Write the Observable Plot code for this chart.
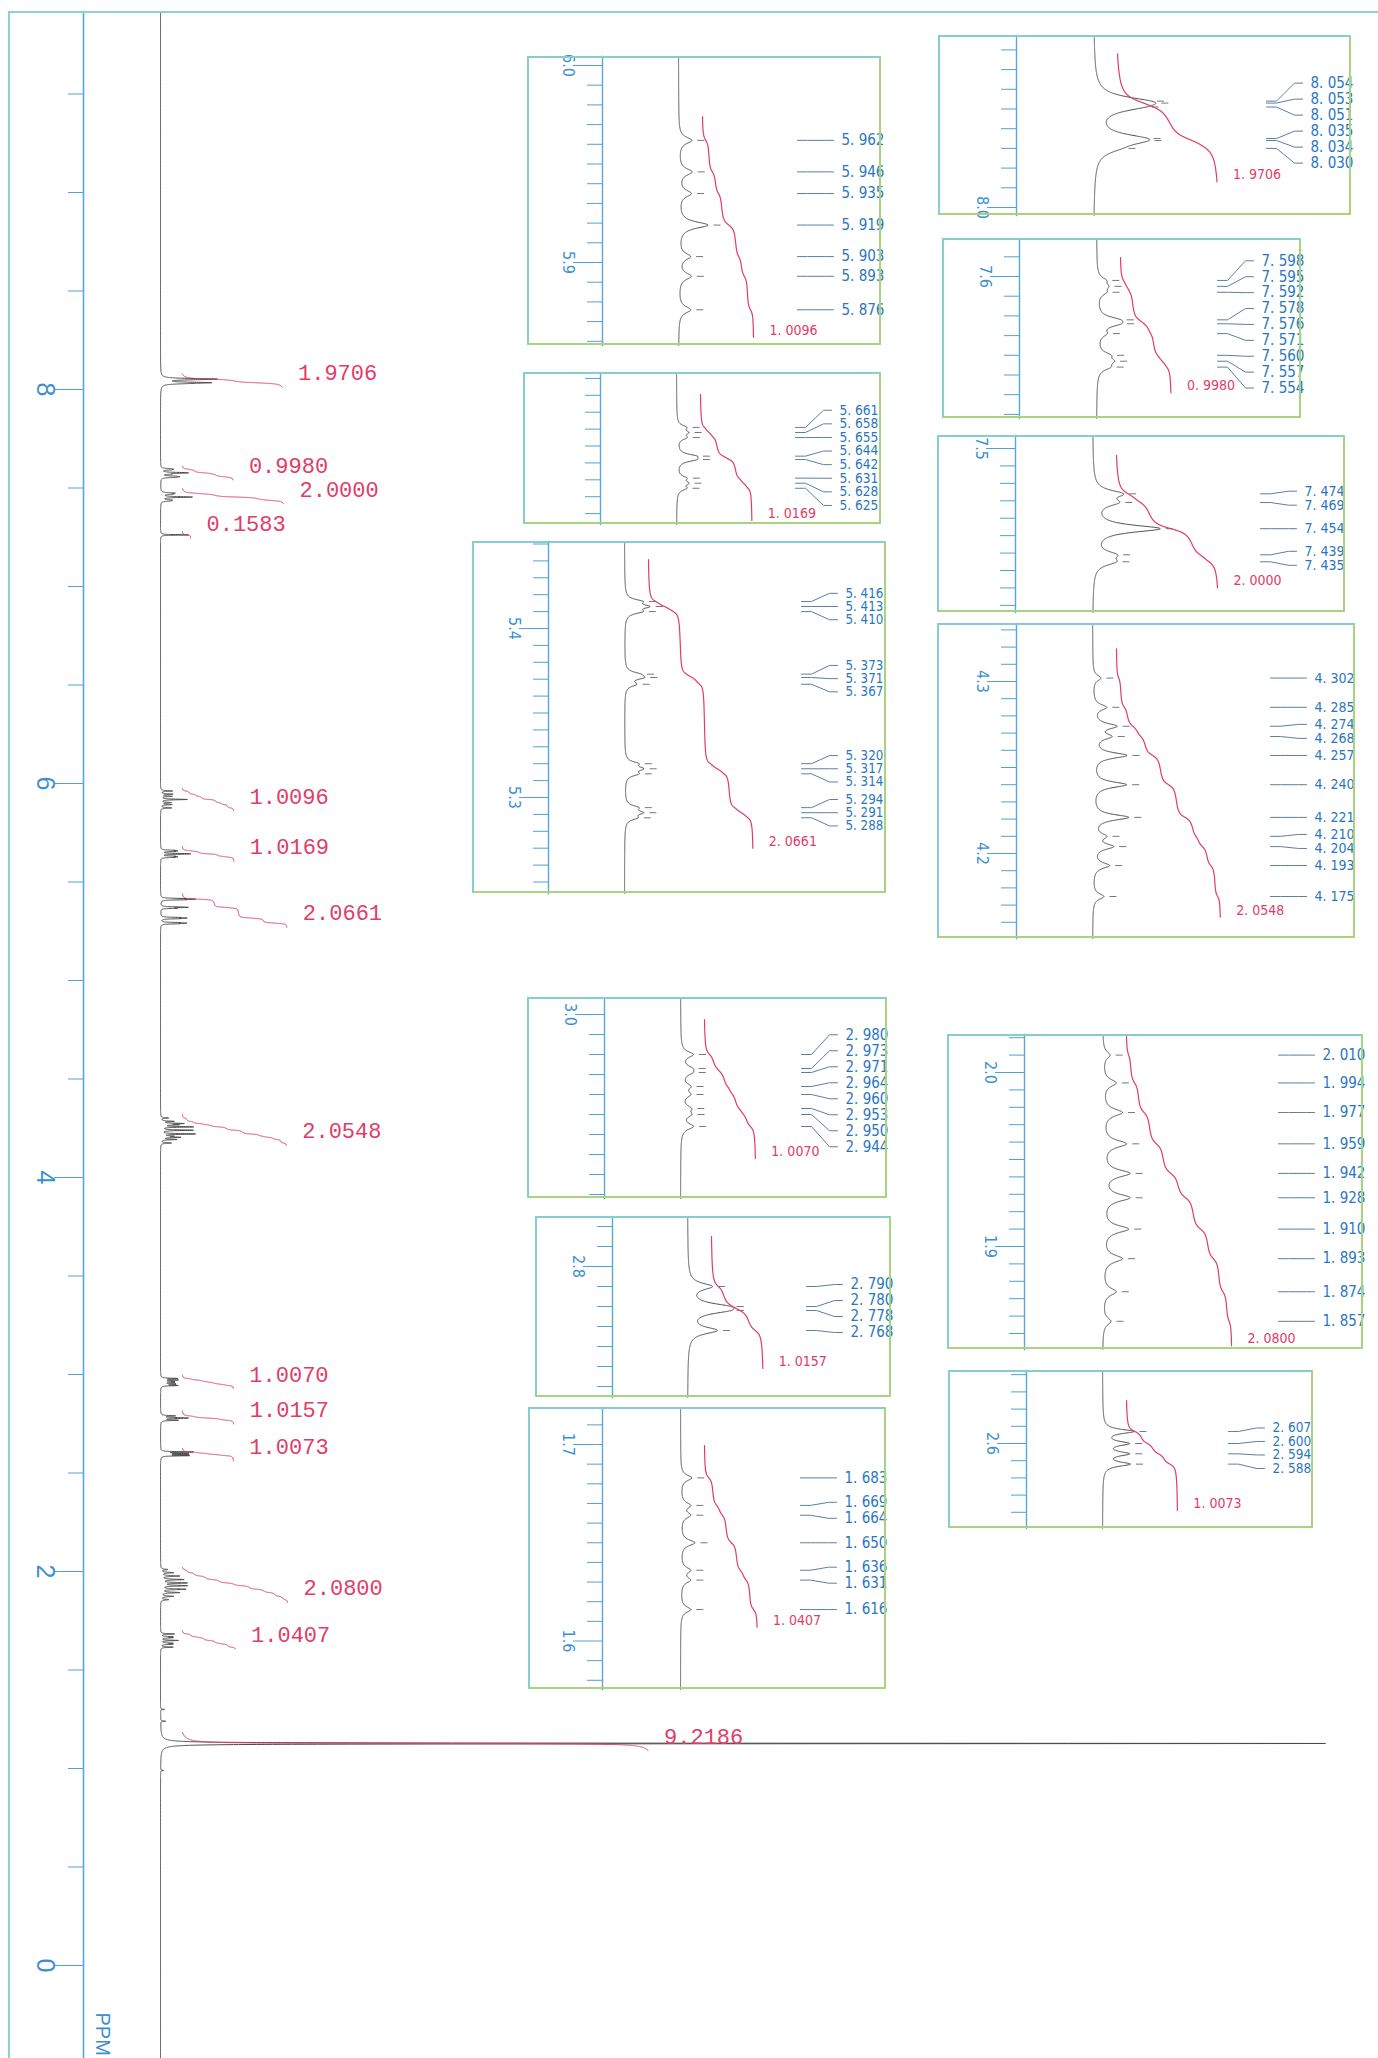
<!DOCTYPE html>
<html><head><meta charset="utf-8">
<script src="https://cdn.jsdelivr.net/npm/d3@7"></script>
<script src="https://cdn.jsdelivr.net/npm/@observablehq/plot@0.6"></script>
<style>
html,body{margin:0;padding:0;background:#fff;overflow:hidden;}
#wrap{position:relative;width:1378px;height:2058px;overflow:hidden;background:#fff;}
#main{position:absolute;left:0;top:0;}
#outer{position:absolute;left:8px;top:11px;width:1370px;height:2047px;border-left:2px solid #8ad2cf;border-top:2px solid #8ad2cf;box-sizing:border-box;pointer-events:none;}
.inset{position:absolute;background:#fff;}
.inset svg,#main svg{display:block;overflow:visible;}
.box{position:absolute;box-sizing:border-box;border-style:solid;border-width:2px;border-color:#84cfcb #a9d47f #a9d47f #84cfcb;pointer-events:none;}
</style></head>
<body><div id="wrap"><div id="main"></div><div id="outer"></div></div>
<script>
// ================= DATA =================
// main ppm axis ticks
const mainTickMajor = [0, 2, 4, 6, 8];
const mainTickMinor = [0.5, 1, 1.5, 2.5, 3, 3.5, 4.5, 5, 5.5, 6.5, 7, 7.5, 8.5, 9, 9.5];

// peak lists (ppm) and line heights of every multiplet
const ppm804 = [8.054, 8.053, 8.051, 8.035, 8.034, 8.030];
const h804   = [24, 24, 22, 26, 26, 12];
const ppm757 = [7.598, 7.595, 7.592, 7.578, 7.576, 7.571, 7.560, 7.557, 7.554];
const h757   = [7, 8, 7, 16, 16, 7, 10, 12, 10];
const ppm745 = [7.474, 7.469, 7.454, 7.439, 7.435];
const h745   = [26, 20, 66, 18, 18];
const ppm726 = [7.262];
const h726   = [1];
const ppm592 = [5.962, 5.946, 5.935, 5.919, 5.903, 5.893, 5.876];
const h592   = [13, 13, 12, 29, 11, 12, 12];
const ppm564 = [5.661, 5.658, 5.655, 5.644, 5.642, 5.631, 5.628, 5.625];
const h564   = [8, 9, 8, 15, 15, 8, 9, 8];
const ppm535 = [5.416, 5.413, 5.410, 5.373, 5.371, 5.367, 5.320, 5.317, 5.314, 5.294, 5.291, 5.288];
const h535   = [14, 20, 14, 11, 15, 10, 11, 15, 11, 11, 15, 10];
const ppm424 = [4.302, 4.285, 4.274, 4.268, 4.257, 4.240, 4.221, 4.210, 4.204, 4.193, 4.175];
const h424   = [8, 13, 22, 16, 33, 33, 35, 11, 19, 16, 11];
const ppm296 = [2.980, 2.973, 2.971, 2.964, 2.960, 2.953, 2.950, 2.944];
const h296   = [12, 8, 8, 8, 8, 8, 8, 12];
const ppm278 = [2.790, 2.780, 2.778, 2.768];
const h278   = [23, 28, 28, 28];
const ppm260 = [2.607, 2.600, 2.594, 2.588];
const h260   = [30, 24, 24, 26];
const ppm193 = [2.010, 1.994, 1.977, 1.959, 1.942, 1.928, 1.910, 1.893, 1.874, 1.857];
const h193   = [7, 13, 19, 23, 26, 26, 25, 19, 13, 8];
const ppm165 = [1.683, 1.669, 1.664, 1.650, 1.636, 1.631, 1.616];
const h165   = [11, 9, 9, 14, 9, 9, 10];
const ppm113 = [1.127];
const h113   = [1];

// multiplet table (same order everywhere below)
const integralValue  = [1.9706, 0.9980, 2.0000, 0.1583, 1.0096, 1.0169, 2.0661, 2.0548, 1.0070, 1.0157, 1.0073, 2.0800, 1.0407, 9.2186];
const integralFrom   = [8.078, 7.6096, 7.496, 7.280, 5.974, 5.6805, 5.4408, 4.319, 2.9975, 2.815, 2.625, 2.0213, 1.6995, 1.183];
const integralTo     = [8.013, 7.541, 7.420, 7.245, 5.862, 5.606, 5.270, 4.163, 2.928, 2.749, 2.561, 1.843, 1.607, 1.091];
const mainPeakHeight = [57, 28, 32, 28, 27, 30, 35, 35, 18, 28, 33, 27, 18, 1165];
const lineWidth      = [0.006, 0.0038, 0.005, 0.003, 0.004, 0.003, 0.003, 0.004, 0.0035, 0.004, 0.003, 0.005, 0.0035, 0.003];
const insetOf        = ["G", "H", "I", null, "A", "B", "C", "J", "D", "E", "L", "K", "F", null];

// small unlabelled lines near the big singlet
const ppmMinor = [1.30, 1.24, 0.99];
const hMinor   = [4, 5, 3];

// ================= LAYOUT =================
const RED = "#e13c66", BLUE = "#2a76c2", TICK = "#4ea2d8", SPEC = "#4a4a4a", CONN = "#5b7f9e";
const LABEL_FONT = "'Liberation Sans Narrow','DejaVu Sans Condensed',Roboto,'Liberation Sans',sans-serif";
const MONO = "'Liberation Mono','DejaVu Sans Mono',monospace";
const PX_PER_H = 50.5;
const MAIN = {zeroY: 1965, pxPerPpm: 197, top: 11, height: 2058, axisX: 83, baseX: 160, width: 1378};

const insetLayout = [
  {id:"A", left:527, top:56,   right:881,  bottom:345,  axisX:602,  baseX:678,  refPpm:6.0,   refY:65,   pxPerPpm:1970, majors:[6.0,5.9], conn:119, gap:16},
  {id:"B", left:523, top:372,  right:881,  bottom:524,  axisX:600,  baseX:676,  refPpm:5.658, refY:432,  pxPerPpm:1690, majors:[],        conn:119, gap:13.6},
  {id:"C", left:472, top:541,  right:886,  bottom:893,  axisX:548,  baseX:624,  refPpm:5.4,   refY:628,  pxPerPpm:1690, majors:[5.4,5.3], conn:177, gap:13.2},
  {id:"D", left:527, top:997,  right:887,  bottom:1198, axisX:604,  baseX:680,  refPpm:3.0,   refY:1014, pxPerPpm:2000, majors:[3.0],     conn:121, gap:16},
  {id:"E", left:535, top:1216, right:891,  bottom:1397, axisX:612,  baseX:687,  refPpm:2.8,   refY:1266, pxPerPpm:2000, majors:[2.8],     conn:119, gap:16},
  {id:"F", left:528, top:1407, right:886,  bottom:1689, axisX:602,  baseX:680,  refPpm:1.7,   refY:1444, pxPerPpm:1965, majors:[1.7,1.6], conn:120, gap:16},
  {id:"G", left:938, top:35,   right:1351, bottom:215,  axisX:1016, baseX:1093, refPpm:8.0,   refY:207,  pxPerPpm:1970, majors:[8.0],     conn:173, gap:16},
  {id:"H", left:942, top:238,  right:1301, bottom:418,  axisX:1019, baseX:1096, refPpm:7.6,   refY:276,  pxPerPpm:1970, majors:[7.6],     conn:121, gap:15.9},
  {id:"I", left:937, top:435,  right:1345, bottom:612,  axisX:1015, baseX:1092, refPpm:7.5,   refY:448,  pxPerPpm:1743, majors:[7.5],     conn:168, gap:14},
  {id:"J", left:937, top:623,  right:1355, bottom:938,  axisX:1016, baseX:1092, refPpm:4.3,   refY:681,  pxPerPpm:1720, majors:[4.3,4.2], conn:178, gap:14},
  {id:"K", left:947, top:1034, right:1363, bottom:1349, axisX:1024, baseX:1102, refPpm:2.0,   refY:1072, pxPerPpm:1740, majors:[2.0,1.9], conn:176, gap:15},
  {id:"L", left:948, top:1370, right:1313, bottom:1528, axisX:1026, baseX:1102, refPpm:2.6,   refY:1443, pxPerPpm:1720, majors:[2.6],     conn:126, gap:13.5}
];

// ================= BUILD =================
const mPpm = [ppm804, ppm757, ppm745, ppm726, ppm592, ppm564, ppm535, ppm424, ppm296, ppm278, ppm260, ppm193, ppm165, ppm113];
const mH   = [h804, h757, h745, h726, h592, h564, h535, h424, h296, h278, h260, h193, h165, h113];

function lor(d, w) { const t = 2 * d / w; return 1 / (1 + t * t); }
function shapeAt(m, p) {
  const P = mPpm[m], H = mH[m], w = lineWidth[m];
  let s = 0;
  for (let i = 0; i < P.length; i++) s += H[i] * lor(p - P[i], w);
  return s;
}
function minorAt(p) {
  let s = 0;
  for (let i = 0; i < ppmMinor.length; i++) s += hMinor[i] * lor(p - ppmMinor[i], 0.003);
  return s;
}
const shapeMax = mPpm.map((P, m) => {
  const lo = d3.min(P) - 0.02, hi = d3.max(P) + 0.02;
  let mx = 0;
  for (let p = hi; p >= lo; p -= 0.0001) mx = Math.max(mx, shapeAt(m, p));
  P.forEach(p => { mx = Math.max(mx, shapeAt(m, p)); });
  return mx;
});
const mainGain = mainPeakHeight.map((h, m) => h / shapeMax[m]);

function integralCurve(m) {
  const a = integralFrom[m], b = integralTo[m], pts = [];
  let c = 0;
  for (let p = a; p >= b - 1e-9; p -= 0.0001) { c += shapeAt(m, p); pts.push({ppm: p, c}); }
  pts.forEach(d => d.c /= c);
  return pts;
}
const curves = integralValue.map((v, m) => integralCurve(m));

// ---------- main spectrum ----------
const yTopMain = (MAIN.zeroY - MAIN.top) / MAIN.pxPerPpm;
const yBotMain = (MAIN.zeroY - MAIN.height) / MAIN.pxPerPpm;
let samp = d3.range(yTopMain, yBotMain, -0.004);
[...mPpm, ppmMinor].forEach(P => {
  samp = samp.concat(d3.range(d3.max(P) + 0.04, d3.min(P) - 0.04, -0.0002), P);
});
samp = Array.from(new Set(samp.map(p => +p.toFixed(5)))).sort((a, b) => b - a);
const mainSpec = samp.map(p => {
  let v = minorAt(p);
  for (let m = 0; m < mPpm.length; m++) {
    if (Math.abs(p - mPpm[m][0]) < 0.6) v += mainGain[m] * shapeAt(m, p);
  }
  return {ppm: p, v};
});
const mainInteg = [];
const mainIntEnd = [];
curves.forEach((pts, m) => {
  pts.forEach(d => mainInteg.push({m, ppm: d.ppm, v: 22 + integralValue[m] * PX_PER_H * d.c}));
  const last = pts[pts.length - 1];
  mainIntEnd.push({ppm: last.ppm, v: 22 + integralValue[m] * PX_PER_H, label: integralValue[m].toFixed(4)});
});

const mainPlot = Plot.plot({
  width: MAIN.width, height: MAIN.height,
  marginTop: MAIN.top, marginBottom: 0, marginLeft: MAIN.axisX, marginRight: 0,
  x: {domain: [MAIN.axisX - MAIN.baseX, MAIN.width - MAIN.baseX], axis: null},
  y: {domain: [yTopMain, yBotMain], range: [MAIN.top, MAIN.height], axis: null},
  style: {background: "transparent", fontFamily: "'Liberation Sans',sans-serif"},
  marks: [
    Plot.frame({anchor: "left", stroke: "#5aa6d4", strokeWidth: 1.6}),
    Plot.axisY({anchor: "left", label: null, ticks: mainTickMinor, tickSize: 15, tickFormat: () => "", stroke: TICK}),
    Plot.axisY({anchor: "left", label: null, ticks: mainTickMajor, tickSize: 29, tickPadding: 0, tickRotate: 90, fontSize: 25,
      tickFormat: d => String(d), stroke: TICK, fill: "#3c8fd0"}),
    Plot.line(mainSpec, {x: "v", y: "ppm", stroke: SPEC, strokeWidth: 1}),
    Plot.line(mainInteg, {x: "v", y: "ppm", z: "m", stroke: RED, strokeWidth: 1}),
    Plot.text(mainIntEnd, {x: "v", y: "ppm", text: "label", dx: 16, dy: -14, textAnchor: "start",
      fontFamily: MONO, fontSize: 22, fill: RED, ariaLabel: "intlabel"}),
    Plot.text(["PPM"], {frameAnchor: "bottom-left", text: d => d, rotate: 90, dx: 12, dy: -46, textAnchor: "start",
      fontSize: 20, fill: "#3c8fd0", fontFamily: "'Liberation Sans',sans-serif"})
  ]
});
d3.select(mainPlot).selectAll('g[aria-label="intlabel"] text').style("letter-spacing", "3.4px");
document.getElementById("main").appendChild(mainPlot);

// ---------- insets ----------
function spreadLabels(ys, gap) {
  let cl = ys.map(y => ({sum: y, n: 1}));
  const first = c => c.sum / c.n - (c.n - 1) * gap / 2;
  let changed = true;
  while (changed) {
    changed = false;
    for (let i = 0; i < cl.length - 1; i++) {
      const a = cl[i], b = cl[i + 1];
      if (first(b) - (first(a) + (a.n - 1) * gap) < gap - 1e-9) {
        a.sum += b.sum; a.n += b.n; cl.splice(i + 1, 1); changed = true; break;
      }
    }
  }
  const out = [];
  cl.forEach(c => { const p0 = first(c); for (let k = 0; k < c.n; k++) out.push(p0 + k * gap); });
  return out;
}
const fmt3 = p => p.toFixed(3).replace(".", ". ");
const fmt4 = v => v.toFixed(4).replace(".", ". ");

const wrap = document.getElementById("wrap");
insetLayout.forEach(L => {
  const m = insetOf.indexOf(L.id);
  const w = L.right - L.left, h = L.bottom - L.top;
  const yTop = L.refPpm + (L.refY - L.top) / L.pxPerPpm;
  const yBot = L.refPpm - (L.bottom - L.refY) / L.pxPerPpm;
  const spec = d3.range(yTop, yBot, -0.0001).concat(mPpm[m]).sort((a, b) => b - a)
    .map(p => ({ppm: p, v: shapeAt(m, p)}));
  const integ = curves[m].map(d => ({ppm: d.ppm, v: 24 + integralValue[m] * PX_PER_H * d.c}));
  const end = integ[integ.length - 1];
  const peaks = mPpm[m].map(p => ({ppm: p, top: shapeAt(m, p)}));
  const gapPpm = L.gap / L.pxPerPpm;
  const lab = spreadLabels(mPpm[m].map(p => -p), gapPpm).map(v => -v);
  const conn = [];
  mPpm[m].forEach((p, i) => {
    conn.push({k: i, x: L.conn, y: p}, {k: i, x: L.conn + 10, y: p}, {k: i, x: L.conn + 28, y: lab[i]}, {k: i, x: L.conn + 36, y: lab[i]});
  });
  const labels = mPpm[m].map((p, i) => ({y: lab[i], text: fmt3(p)}));
  const minor = d3.range(Math.ceil(yBot * 100 - 1e-6), Math.floor(yTop * 100 + 1e-6) + 1).map(k => k / 100)
    .filter(t => !L.majors.some(M => Math.abs(M - t) < 1e-6));
  const labelSize = Math.min(15, L.gap);

  const svg = Plot.plot({
    width: w, height: h, marginLeft: L.axisX - L.left, marginRight: 0, marginTop: 0, marginBottom: 0,
    x: {domain: [L.axisX - L.baseX, L.right - L.baseX], axis: null},
    y: {domain: [yTop, yBot], range: [0, h], axis: null},
    style: {background: "transparent", fontFamily: LABEL_FONT},
    marks: [
      Plot.frame({anchor: "left", stroke: "#5aa6d4", strokeWidth: 1.4}),
      Plot.axisY({anchor: "left", label: null, ticks: minor, tickSize: 15, tickFormat: () => "", stroke: TICK}),
      Plot.axisY({anchor: "left", label: null, ticks: L.majors, tickSize: 29, tickPadding: -1, tickRotate: 90, fontSize: 16,
        tickFormat: d => d.toFixed(1), stroke: TICK, fill: "#3c8fd0", fontFamily: LABEL_FONT}),
      Plot.line(spec, {x: "v", y: "ppm", stroke: SPEC, strokeWidth: 1}),
      Plot.ruleY(peaks, {y: "ppm", x1: d => d.top + 6, x2: d => d.top + 13, stroke: "#777", strokeWidth: 1}),
      Plot.line(integ, {x: "v", y: "ppm", stroke: RED, strokeWidth: 1.2}),
      Plot.text([end], {x: "v", y: "ppm", text: () => fmt4(integralValue[m]), dx: 16, dy: -7, textAnchor: "start",
        fontSize: 14, fill: RED, fontFamily: LABEL_FONT}),
      Plot.line(conn, {x: "x", y: "y", z: "k", stroke: CONN, strokeWidth: 1}),
      Plot.text(labels, {x: () => L.conn + 36, y: "y", text: "text", dx: 8, textAnchor: "start",
        fontSize: labelSize, fill: BLUE, fontFamily: LABEL_FONT})
    ]
  });
  const div = document.createElement("div");
  div.className = "inset";
  Object.assign(div.style, {left: L.left + "px", top: L.top + "px", width: w + "px", height: h + "px"});
  div.appendChild(svg);
  wrap.appendChild(div);
  const box = document.createElement("div");
  box.className = "box";
  Object.assign(box.style, {left: L.left + "px", top: L.top + "px", width: w + "px", height: h + "px"});
  wrap.appendChild(box);
});
</script></body></html>
